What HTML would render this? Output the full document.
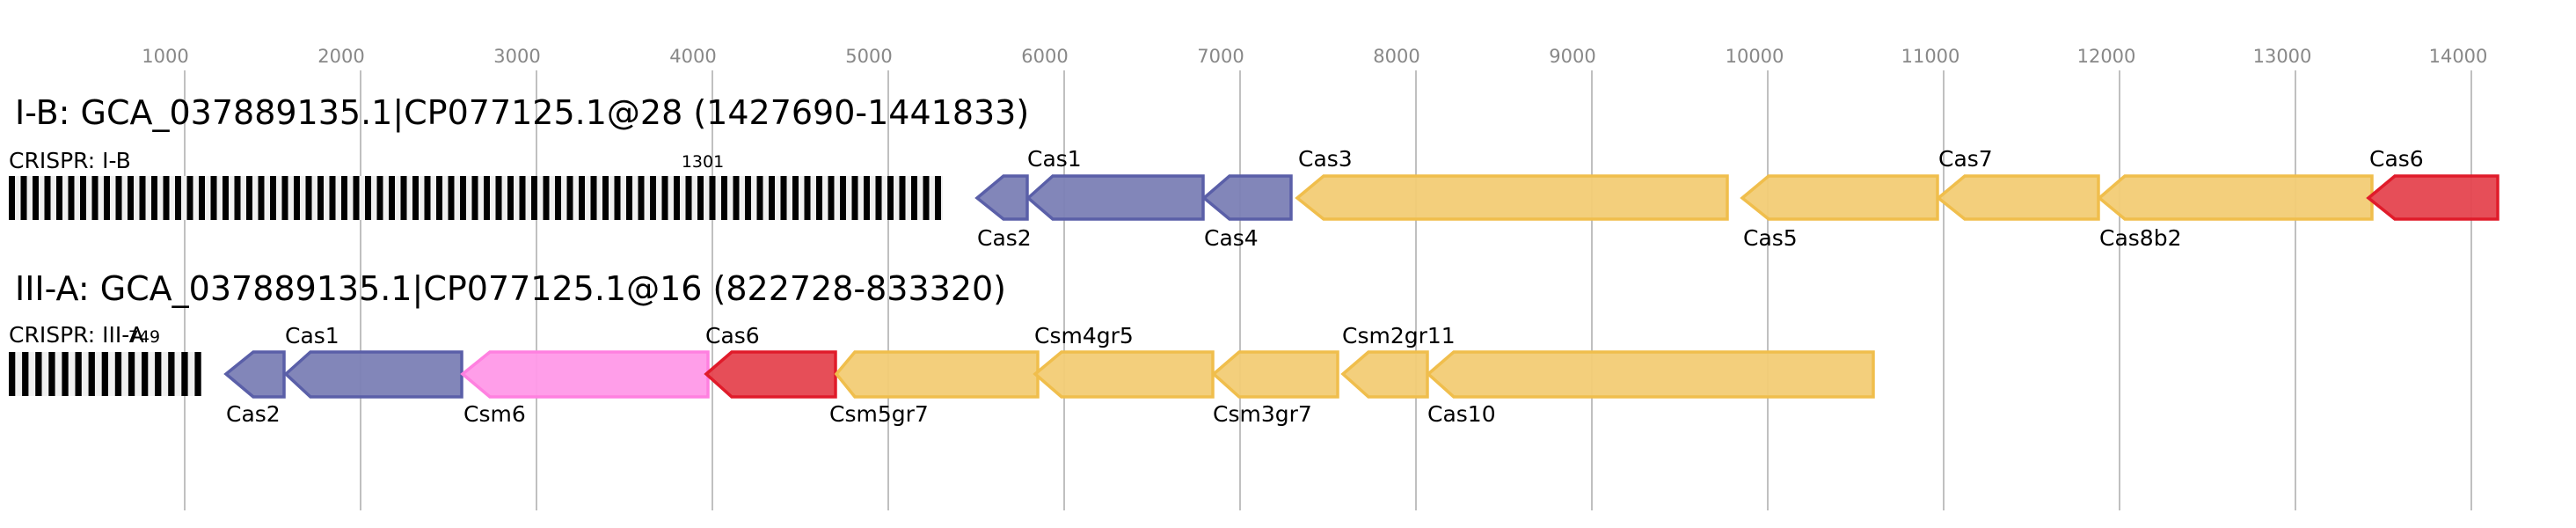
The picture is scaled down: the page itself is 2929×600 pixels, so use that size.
<!DOCTYPE html>
<html><head><meta charset="utf-8"><style>
html,body{margin:0;padding:0;background:#fff;}
svg{display:block;}
text{font-family:"DejaVu Sans","Liberation Sans",sans-serif;}
</style></head><body>
<svg width="2929" height="600" viewBox="0 0 2929 600" xmlns="http://www.w3.org/2000/svg">
<g stroke="#c0c0c0" stroke-width="2">
<line x1="210" y1="80" x2="210" y2="580"/><line x1="410" y1="80" x2="410" y2="580"/>
<line x1="610" y1="80" x2="610" y2="580"/><line x1="810" y1="80" x2="810" y2="580"/>
<line x1="1010" y1="80" x2="1010" y2="580"/><line x1="1210" y1="80" x2="1210" y2="580"/>
<line x1="1410" y1="80" x2="1410" y2="580"/><line x1="1610" y1="80" x2="1610" y2="580"/>
<line x1="1810" y1="80" x2="1810" y2="580"/><line x1="2010" y1="80" x2="2010" y2="580"/>
<line x1="2210" y1="80" x2="2210" y2="580"/><line x1="2410" y1="80" x2="2410" y2="580"/>
<line x1="2610" y1="80" x2="2610" y2="580"/><line x1="2810" y1="80" x2="2810" y2="580"/>
</g>
<g fill="#888" font-size="21" text-anchor="middle">
<text x="188" y="71">1000</text><text x="388" y="71">2000</text><text x="588" y="71">3000</text>
<text x="788" y="71">4000</text><text x="988" y="71">5000</text><text x="1188" y="71">6000</text>
<text x="1388" y="71">7000</text><text x="1588" y="71">8000</text><text x="1788" y="71">9000</text>
<text x="1995" y="71">10000</text><text x="2195" y="71">11000</text><text x="2395" y="71">12000</text>
<text x="2595" y="71">13000</text><text x="2795" y="71">14000</text>
</g>
<text x="17" y="141" font-size="38" fill="#000">I-B: GCA_037889135.1|CP077125.1@28 (1427690-1441833)</text>
<text x="10" y="191" font-size="25" fill="#000">CRISPR: I-B</text>
<text x="799" y="190" font-size="19" fill="#000" text-anchor="middle">1301</text>
<rect x="10" y="200" width="1062" height="50" fill="#f0f0f0"/>
<text x="17" y="341" font-size="38" fill="#000">III-A: GCA_037889135.1|CP077125.1@16 (822728-833320)</text>
<text x="10" y="389" font-size="25" fill="#000">CRISPR: III-A</text>
<text x="164" y="389" font-size="19" fill="#000" text-anchor="middle">749</text>
<rect x="10" y="400" width="219" height="50" fill="#f0f0f0"/>
<g stroke-width="3.5" stroke-linejoin="miter">
<polygon points="1111,225 1141,200 1168,200 1168,249 1141,249" fill="#7b7fb5" fill-opacity="0.95" stroke="#5a5fa8"/>
<polygon points="1169,225 1197,200 1368,200 1368,249 1197,249" fill="#7b7fb5" fill-opacity="0.95" stroke="#5a5fa8"/>
<polygon points="1369,225 1398,200 1468,200 1468,249 1398,249" fill="#7b7fb5" fill-opacity="0.95" stroke="#5a5fa8"/>
<polygon points="1475,225 1505,200 1964,200 1964,249 1505,249" fill="#f2cc75" fill-opacity="0.95" stroke="#f0be4c"/>
<polygon points="1981,225 2011,200 2203,200 2203,249 2011,249" fill="#f2cc75" fill-opacity="0.95" stroke="#f0be4c"/>
<polygon points="2204,225 2234,200 2386,200 2386,249 2234,249" fill="#f2cc75" fill-opacity="0.95" stroke="#f0be4c"/>
<polygon points="2387,225 2416,200 2697,200 2697,249 2416,249" fill="#f2cc75" fill-opacity="0.95" stroke="#f0be4c"/>
<polygon points="2693,225 2723,200 2840,200 2840,249 2723,249" fill="#e5444f" fill-opacity="0.95" stroke="#e01b2a"/>
<polygon points="257,425 288,400 323,400 323,451 288,451" fill="#7b7fb5" fill-opacity="0.95" stroke="#5a5fa8"/>
<polygon points="325,425 353,400 525,400 525,451 353,451" fill="#7b7fb5" fill-opacity="0.95" stroke="#5a5fa8"/>
<polygon points="526,425 557,400 805,400 805,451 557,451" fill="#ff99e8" fill-opacity="0.95" stroke="#ff80e0"/>
<polygon points="803,425 832,400 950,400 950,451 832,451" fill="#e5444f" fill-opacity="0.95" stroke="#e01b2a"/>
<polygon points="951,425 972,400 1180,400 1180,451 972,451" fill="#f2cc75" fill-opacity="0.95" stroke="#f0be4c"/>
<polygon points="1177,425 1207,400 1379,400 1379,451 1207,451" fill="#f2cc75" fill-opacity="0.95" stroke="#f0be4c"/>
<polygon points="1380,425 1409,400 1521,400 1521,451 1409,451" fill="#f2cc75" fill-opacity="0.95" stroke="#f0be4c"/>
<polygon points="1527,425 1556,400 1623,400 1623,451 1556,451" fill="#f2cc75" fill-opacity="0.95" stroke="#f0be4c"/>
<polygon points="1624,425 1653,400 2130,400 2130,451 1653,451" fill="#f2cc75" fill-opacity="0.95" stroke="#f0be4c"/>
</g>
<g font-size="25" fill="#000">
<text x="1111" y="279">Cas2</text><text x="1168" y="189">Cas1</text><text x="1369" y="279">Cas4</text>
<text x="1476" y="189">Cas3</text><text x="1982" y="279">Cas5</text><text x="2204" y="189">Cas7</text>
<text x="2387" y="279">Cas8b2</text><text x="2694" y="189">Cas6</text>
<text x="257" y="479">Cas2</text><text x="324" y="390">Cas1</text><text x="527" y="479">Csm6</text>
<text x="802" y="390">Cas6</text><text x="943" y="479">Csm5gr7</text><text x="1176" y="390">Csm4gr5</text>
<text x="1379" y="479">Csm3gr7</text><text x="1526" y="390">Csm2gr11</text><text x="1623" y="479">Cas10</text>
</g>
<g fill="#000">
<rect x="10" y="200" width="7" height="50"/><rect x="23.5" y="200" width="7" height="50"/><rect x="37" y="200" width="7" height="50"/><rect x="50.5" y="200" width="7" height="50"/><rect x="64" y="200" width="7" height="50"/><rect x="77.5" y="200" width="7" height="50"/><rect x="91" y="200" width="7" height="50"/><rect x="104.5" y="200" width="7" height="50"/><rect x="118" y="200" width="7" height="50"/><rect x="131.5" y="200" width="7" height="50"/>
<rect x="145" y="200" width="7" height="50"/><rect x="158.5" y="200" width="7" height="50"/><rect x="172" y="200" width="7" height="50"/><rect x="185.5" y="200" width="7" height="50"/><rect x="199" y="200" width="7" height="50"/><rect x="212.5" y="200" width="7" height="50"/><rect x="226" y="200" width="7" height="50"/><rect x="239.5" y="200" width="7" height="50"/><rect x="253" y="200" width="7" height="50"/><rect x="266.5" y="200" width="7" height="50"/>
<rect x="280" y="200" width="7" height="50"/><rect x="293.5" y="200" width="7" height="50"/><rect x="307" y="200" width="7" height="50"/><rect x="320.5" y="200" width="7" height="50"/><rect x="334" y="200" width="7" height="50"/><rect x="347.5" y="200" width="7" height="50"/><rect x="361" y="200" width="7" height="50"/><rect x="374.5" y="200" width="7" height="50"/><rect x="388" y="200" width="7" height="50"/><rect x="401.5" y="200" width="7" height="50"/>
<rect x="415" y="200" width="7" height="50"/><rect x="428.5" y="200" width="7" height="50"/><rect x="442" y="200" width="7" height="50"/><rect x="455.5" y="200" width="7" height="50"/><rect x="469" y="200" width="7" height="50"/><rect x="482.5" y="200" width="7" height="50"/><rect x="496" y="200" width="7" height="50"/><rect x="509.5" y="200" width="7" height="50"/><rect x="523" y="200" width="7" height="50"/><rect x="536.5" y="200" width="7" height="50"/>
<rect x="550" y="200" width="7" height="50"/><rect x="563.5" y="200" width="7" height="50"/><rect x="577" y="200" width="7" height="50"/><rect x="590.5" y="200" width="7" height="50"/><rect x="604" y="200" width="7" height="50"/><rect x="617.5" y="200" width="7" height="50"/><rect x="631" y="200" width="7" height="50"/><rect x="644.5" y="200" width="7" height="50"/><rect x="658" y="200" width="7" height="50"/><rect x="671.5" y="200" width="7" height="50"/>
<rect x="685" y="200" width="7" height="50"/><rect x="698.5" y="200" width="7" height="50"/><rect x="712" y="200" width="7" height="50"/><rect x="725.5" y="200" width="7" height="50"/><rect x="739" y="200" width="7" height="50"/><rect x="752.5" y="200" width="7" height="50"/><rect x="766" y="200" width="7" height="50"/><rect x="779.5" y="200" width="7" height="50"/><rect x="793" y="200" width="7" height="50"/><rect x="806.5" y="200" width="7" height="50"/>
<rect x="820" y="200" width="7" height="50"/><rect x="833.5" y="200" width="7" height="50"/><rect x="847" y="200" width="7" height="50"/><rect x="860.5" y="200" width="7" height="50"/><rect x="874" y="200" width="7" height="50"/><rect x="887.5" y="200" width="7" height="50"/><rect x="901" y="200" width="7" height="50"/><rect x="914.5" y="200" width="7" height="50"/><rect x="928" y="200" width="7" height="50"/><rect x="941.5" y="200" width="7" height="50"/>
<rect x="955" y="200" width="7" height="50"/><rect x="968.5" y="200" width="7" height="50"/><rect x="982" y="200" width="7" height="50"/><rect x="995.5" y="200" width="7" height="50"/><rect x="1009" y="200" width="7" height="50"/><rect x="1022.5" y="200" width="7" height="50"/><rect x="1036" y="200" width="7" height="50"/><rect x="1049.5" y="200" width="7" height="50"/><rect x="1063" y="200" width="7" height="50"/>
<rect x="10" y="400" width="7.3" height="50"/><rect x="25.1" y="400" width="7.3" height="50"/><rect x="40.2" y="400" width="7.3" height="50"/><rect x="55.3" y="400" width="7.3" height="50"/><rect x="70.4" y="400" width="7.3" height="50"/><rect x="85.5" y="400" width="7.3" height="50"/><rect x="100.6" y="400" width="7.3" height="50"/><rect x="115.7" y="400" width="7.3" height="50"/><rect x="130.8" y="400" width="7.3" height="50"/><rect x="145.9" y="400" width="7.3" height="50"/><rect x="161" y="400" width="7.3" height="50"/><rect x="176.1" y="400" width="7.3" height="50"/><rect x="191.2" y="400" width="7.3" height="50"/><rect x="206.3" y="400" width="7.3" height="50"/><rect x="221.4" y="400" width="7.3" height="50"/>
</g>
</svg>
</body></html>
